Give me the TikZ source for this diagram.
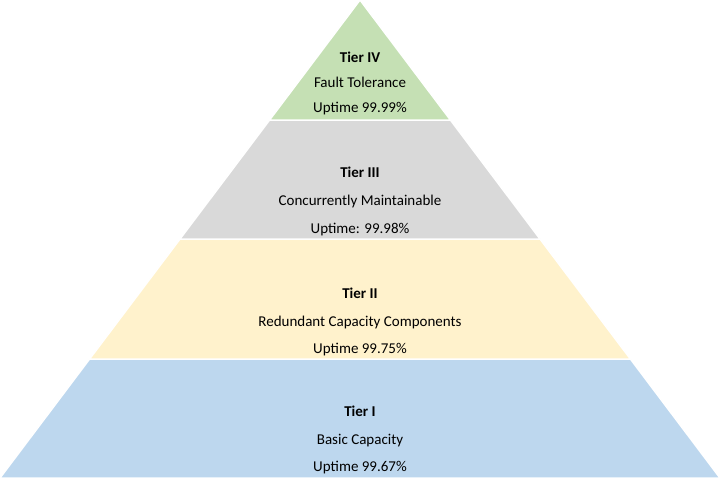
\documentclass[tikz,border=0pt]{standalone}
\usepackage{fontspec}
\setmainfont{Carlito}
\begin{document}
\begin{tikzpicture}[x=1pt,y=-1pt,
  band/.style={draw=white,line width=1.5pt},
  lbl/.style={font=\fontsize{15}{18}\selectfont,inner sep=0pt,anchor=base}]
\useasboundingbox (0,0) rectangle (720,488);
\fill[white] (0,0) rectangle (720,488);
\filldraw[band,fill={rgb,255:red,189;green,215;blue,238}] (89.6,359) -- (0,478) -- (720,478) -- (630.4,359) -- cycle;
\filldraw[band,fill={rgb,255:red,255;green,242;blue,204}] (180,239) -- (89.6,359) -- (630.4,359) -- (540,239) -- cycle;
\filldraw[band,fill={rgb,255:red,217;green,217;blue,217}] (269.6,120) -- (180,239) -- (540,239) -- (450.4,120) -- cycle;
\filldraw[band,fill={rgb,255:red,197;green,224;blue,180}] (360,0) -- (269.6,120) -- (450.4,120) -- cycle;
\node[lbl] (a1) at (360,62) {\textbf{Tier IV}};
\node[lbl] (a2) at (360,87) {Fault Tolerance};
\node[lbl] (a3) at (360,112) {Uptime 99.99\%};
\node[lbl] (b1) at (360,177) {\textbf{Tier III}};
\node[lbl] (b2) at (360,205) {Concurrently Maintainable};
\node[lbl] (b3) at (360,233) {Uptime: 99.98\%};
\node[lbl] (c1) at (360,298) {\textbf{Tier II}};
\node[lbl] (c2) at (360,326) {Redundant Capacity Components};
\node[lbl] (c3) at (360,353) {Uptime 99.75\%};
\node[lbl] (d1) at (360,416) {\textbf{Tier I}};
\node[lbl] (d2) at (360,444) {Basic Capacity};
\node[lbl] (d3) at (360,471) {Uptime 99.67\%};
\end{tikzpicture}
\end{document}
